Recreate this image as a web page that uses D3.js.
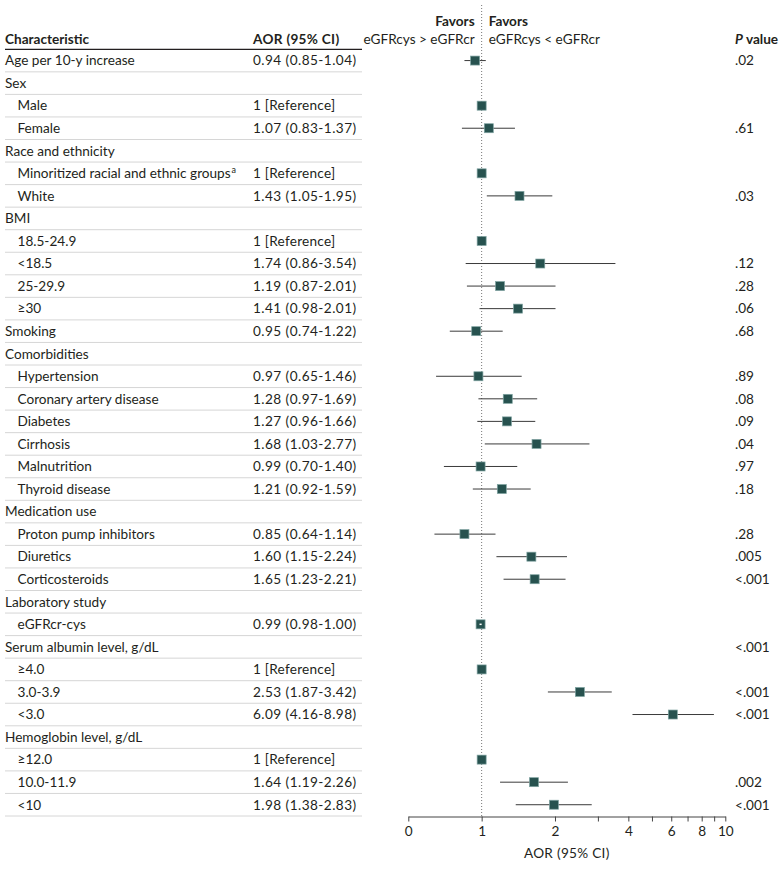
<!DOCTYPE html>
<html>
<head>
<meta charset="utf-8">
<script src="https://cdn.jsdelivr.net/npm/d3@7"></script>
<style>
  body { margin: 0; background: #fff; }
  svg { display: block; font-family: Lato, "Noto Sans", sans-serif; }
  text { fill: #231f20; }
</style>
</head>
<body>
<svg width="780" height="870"></svg>
<script>
// rows of the table, top to bottom
const labels = ["Age per 10-y increase", "Sex", "Male", "Female", "Race and ethnicity",
  "Minoritized racial and ethnic groups", "White", "BMI", "18.5-24.9", "<18.5", "25-29.9", "≥30",
  "Smoking", "Comorbidities", "Hypertension", "Coronary artery disease", "Diabetes", "Cirrhosis",
  "Malnutrition", "Thyroid disease", "Medication use", "Proton pump inhibitors", "Diuretics",
  "Corticosteroids", "Laboratory study", "eGFRcr-cys", "Serum albumin level, g/dL", "≥4.0",
  "3.0-3.9", "<3.0", "Hemoglobin level, g/dL", "≥12.0", "10.0-11.9", "<10"];
const indent = [0, 0, 1, 1, 0, 1, 1, 0, 1, 1, 1, 1, 0, 0, 1, 1, 1, 1, 1, 1, 0, 1, 1, 1, 0, 1, 0, 1, 1, 1, 0, 1, 1, 1];
const aor = [0.94, null, 1, 1.07, null, 1, 1.43, null, 1, 1.74, 1.19, 1.41, 0.95, null, 0.97, 1.28, 1.27,
  1.68, 0.99, 1.21, null, 0.85, 1.60, 1.65, null, 0.99, null, 1, 2.53, 6.09, null, 1, 1.64, 1.98];
const ciLow = [0.85, null, null, 0.83, null, null, 1.05, null, null, 0.86, 0.87, 0.98, 0.74, null, 0.65,
  0.97, 0.96, 1.03, 0.70, 0.92, null, 0.64, 1.15, 1.23, null, 0.98, null, null, 1.87, 4.16, null, null, 1.19, 1.38];
const ciHigh = [1.04, null, null, 1.37, null, null, 1.95, null, null, 3.54, 2.01, 2.01, 1.22, null, 1.46,
  1.69, 1.66, 2.77, 1.40, 1.59, null, 1.14, 2.24, 2.21, null, 1.00, null, null, 3.42, 8.98, null, null, 2.26, 2.83];
const pValues = [".02", "", "", ".61", "", "", ".03", "", "", ".12", ".28", ".06", ".68", "", ".89", ".08",
  ".09", ".04", ".97", ".18", "", ".28", ".005", "<.001", "", "", "<.001", "", "<.001", "<.001", "", "", ".002", "<.001"];

// axis ticks (0.5 is shown as "0" on the original)
const tickValues = [0.5, 1, 2, 3, 4, 5, 6, 7, 8, 9, 10];
const tickLabels = ["0", "1", "2", "", "4", "", "6", "", "8", "", "10"];

const rows = labels.map((label, i) => ({
  label: label,
  indent: indent[i],
  aor: aor[i],
  lo: ciLow[i],
  hi: ciHigh[i],
  p: pValues[i]
}));

const svg = d3.select('svg');

const tableLeft = 5;
const tableRight = 362;
const headerLine = 49.3;
const rowH = 22.55;
const colAor = 253;
const colP = 735;
const fontSize = 13.6;

const rowCenter = i => headerLine + rowH * i + rowH / 2;

// x scale for the plot, log based
const scaleX = d3.scaleLog()
  .base(2)
  .domain([0.5, 10])
  .range([408.3, 725.3]);

const axisY = headerLine + rowH * rows.length + 0.5;

// header texts
svg.append('text')
  .attr('x', tableLeft)
  .attr('y', 44)
  .attr('font-size', fontSize)
  .attr('font-weight', 'bold')
  .text('Characteristic');

svg.append('text')
  .attr('x', colAor)
  .attr('y', 44)
  .attr('font-size', fontSize)
  .attr('font-weight', 'bold')
  .attr('letter-spacing', 0.3)
  .text('AOR (95% CI)');

const pHead = svg.append('text')
  .attr('x', colP)
  .attr('y', 44)
  .attr('font-size', fontSize)
  .attr('font-weight', 'bold');
pHead.append('tspan').attr('font-style', 'italic').text('P');
pHead.append('tspan').text(' value');

// favors labels
const favorsLeft = svg.append('text')
  .attr('font-size', fontSize)
  .attr('font-weight', 'bold')
  .attr('text-anchor', 'end');
favorsLeft.append('tspan').attr('x', scaleX(1) - 7).attr('y', 26).text('Favors');
favorsLeft.append('tspan').attr('x', scaleX(1) - 7).attr('y', 43.5).attr('font-weight', 'normal').text('eGFRcys > eGFRcr');

const favorsRight = svg.append('text')
  .attr('font-size', fontSize)
  .attr('font-weight', 'bold');
favorsRight.append('tspan').attr('x', scaleX(1) + 7).attr('y', 26).text('Favors');
favorsRight.append('tspan').attr('x', scaleX(1) + 7).attr('y', 43.5).attr('font-weight', 'normal').text('eGFRcys < eGFRcr');

// header rule
svg.append('line')
  .attr('x1', tableLeft)
  .attr('x2', tableRight)
  .attr('y1', headerLine)
  .attr('y2', headerLine)
  .attr('stroke', '#231f20')
  .attr('stroke-width', 1.2);

// row separators
svg.append('g')
  .selectAll('line')
  .data(rows)
  .join('line')
  .attr('x1', tableLeft)
  .attr('x2', tableRight)
  .attr('y1', (d, i) => headerLine + rowH * (i + 1))
  .attr('y2', (d, i) => headerLine + rowH * (i + 1))
  .attr('stroke', '#d6d6d6')
  .attr('stroke-width', 1);

// row labels
const labelText = svg.append('g')
  .selectAll('text')
  .data(rows)
  .join('text')
  .attr('x', d => tableLeft + d.indent * 12.5)
  .attr('y', (d, i) => rowCenter(i) + 4.8)
  .attr('font-size', fontSize)
  .text(d => d.label);

// superscript on the minoritized row
labelText.filter(d => d.label.startsWith('Minoritized'))
  .append('tspan')
  .attr('font-size', 9)
  .attr('dy', -5)
  .attr('dx', 1)
  .text('a');

// AOR column
svg.append('g')
  .selectAll('text')
  .data(rows.filter(d => d.aor !== null))
  .join('text')
  .attr('x', colAor)
  .attr('y', d => rowCenter(rows.indexOf(d)) + 4.8)
  .attr('font-size', fontSize)
  .attr('letter-spacing', d => d.lo === null ? 0.25 : 0.45)
  .text(d => d.lo === null
    ? '1 [Reference]'
    : `${d.aor.toFixed(2)} (${d.lo.toFixed(2)}-${d.hi.toFixed(2)})`);

// P values
svg.append('g')
  .selectAll('text')
  .data(rows.filter(d => d.p !== ''))
  .join('text')
  .attr('x', colP)
  .attr('y', d => rowCenter(rows.indexOf(d)) + 4.8)
  .attr('font-size', fontSize)
  .text(d => d.p);

// reference line at 1
svg.append('line')
  .attr('x1', scaleX(1))
  .attr('x2', scaleX(1))
  .attr('y1', 5)
  .attr('y2', axisY)
  .attr('stroke', '#777')
  .attr('stroke-width', 1)
  .attr('stroke-dasharray', '1,2');

const markerSize = 9;
const plotRows = rows.filter(d => d.aor !== null);

// CI lines
svg.append('g')
  .selectAll('line')
  .data(plotRows.filter(d => d.lo !== null))
  .join('line')
  .attr('x1', d => scaleX(d.lo))
  .attr('x2', d => scaleX(d.hi))
  .attr('y1', d => rowCenter(rows.indexOf(d)))
  .attr('y2', d => rowCenter(rows.indexOf(d)))
  .attr('stroke', '#3a3a3a')
  .attr('stroke-width', 1);

// point estimates
svg.append('g')
  .selectAll('rect')
  .data(plotRows)
  .join('rect')
  .attr('x', d => scaleX(d.aor) - markerSize / 2)
  .attr('y', d => rowCenter(rows.indexOf(d)) - markerSize / 2)
  .attr('width', markerSize)
  .attr('height', markerSize)
  .attr('fill', '#27524f')
  .attr('stroke', '#7fa3a1')
  .attr('stroke-width', 0.7);

// CI that fits inside the marker shows in white
svg.append('g')
  .selectAll('line')
  .data(plotRows.filter(d => d.lo !== null &&
    scaleX(d.hi) - scaleX(d.lo) < markerSize - 2))
  .join('line')
  .attr('x1', d => scaleX(d.lo))
  .attr('x2', d => scaleX(d.hi))
  .attr('y1', d => rowCenter(rows.indexOf(d)))
  .attr('y2', d => rowCenter(rows.indexOf(d)))
  .attr('stroke', '#fff')
  .attr('stroke-width', 1.5);

// x axis
const axisX = d3.axisBottom(scaleX)
  .tickValues(tickValues)
  .tickFormat((d, i) => tickLabels[i])
  .tickSizeInner(5)
  .tickSizeOuter(0)
  .tickPadding(5);

const axisXGroup = svg.append('g')
  .attr('transform', `translate(0, ${axisY})`)
  .call(axisX);

axisXGroup.select('.domain').attr('stroke', '#444');
axisXGroup.selectAll('.tick line').attr('stroke', '#444');
axisXGroup.selectAll('.tick text')
  .attr('font-size', fontSize)
  .attr('font-family', 'Lato, "Noto Sans", sans-serif')
  .attr('fill', '#231f20');

svg.append('text')
  .attr('x', (scaleX(0.5) + scaleX(10)) / 2)
  .attr('y', 858)
  .attr('text-anchor', 'middle')
  .attr('font-size', fontSize)
  .attr('letter-spacing', 0.3)
  .text('AOR (95% CI)');
</script>
</body>
</html>
